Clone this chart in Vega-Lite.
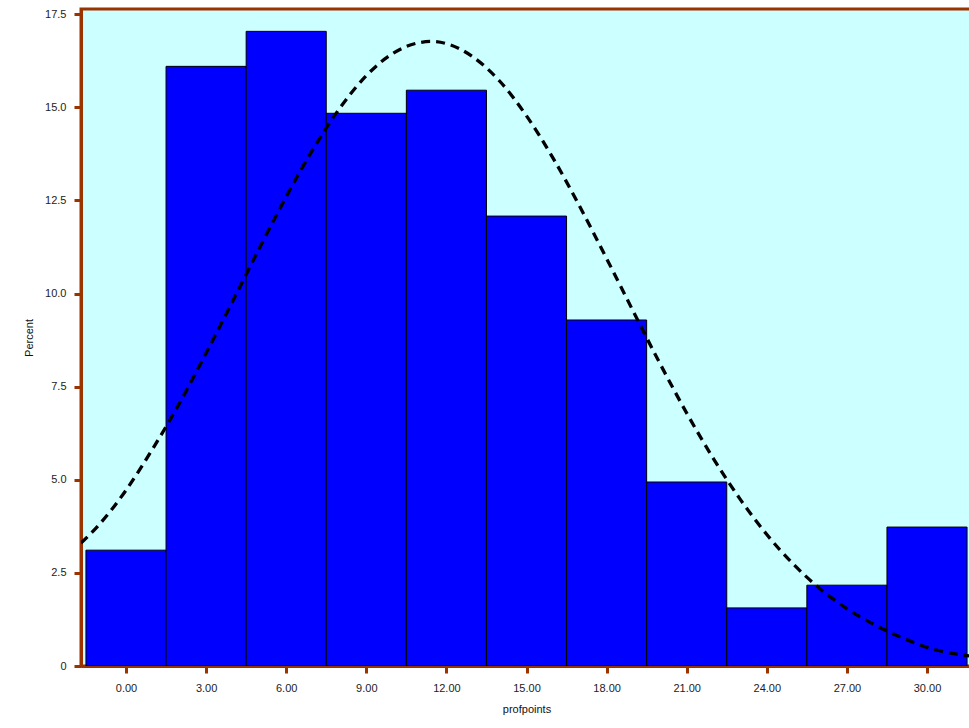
{
  "$schema": "https://vega.github.io/schema/vega-lite/v6.json",
  "autosize": {"type": "none"},
  "padding": {"left": 81, "top": 9, "right": 0, "bottom": 62},
  "width": 891,
  "height": 657,
  "background": "#ffffff",
  "config": {
    "view": {"fill": "#ccffff", "stroke": "#993300", "strokeWidth": 3},
    "axis": {
      "grid": false,
      "domainColor": "#993300",
      "domainWidth": 3,
      "tickColor": "#993300",
      "tickWidth": 3,
      "tickSize": 7,
      "labelFont": "Liberation Sans",
      "labelFontSize": 11,
      "labelColor": "#222222",
      "titleFont": "Liberation Sans",
      "titleFontSize": 11,
      "titleFontWeight": "normal",
      "titleColor": "#111111"
    }
  },
  "datasets": {
    "bins": [
      {"mid": 0, "lo": -1.5, "hi": 1.5, "pct": 3.11},
      {"mid": 3, "lo": 1.5, "hi": 4.5, "pct": 16.1},
      {"mid": 6, "lo": 4.5, "hi": 7.5, "pct": 17.04},
      {"mid": 9, "lo": 7.5, "hi": 10.5, "pct": 14.84},
      {"mid": 12, "lo": 10.5, "hi": 13.5, "pct": 15.46},
      {"mid": 15, "lo": 13.5, "hi": 16.5, "pct": 12.08},
      {"mid": 18, "lo": 16.5, "hi": 19.5, "pct": 9.29},
      {"mid": 21, "lo": 19.5, "hi": 22.5, "pct": 4.94},
      {"mid": 24, "lo": 22.5, "hi": 25.5, "pct": 1.56},
      {"mid": 27, "lo": 25.5, "hi": 28.5, "pct": 2.17},
      {"mid": 30, "lo": 28.5, "hi": 31.5, "pct": 3.73}
    ],
    "curve": [
      {"x": -1.685, "y": 3.3},
      {"x": -1, "y": 3.8},
      {"x": 0, "y": 4.72},
      {"x": 1, "y": 5.83},
      {"x": 2, "y": 7.05},
      {"x": 3, "y": 8.4},
      {"x": 4, "y": 9.8},
      {"x": 5, "y": 11.22},
      {"x": 6, "y": 12.6},
      {"x": 7, "y": 13.87},
      {"x": 8, "y": 14.97},
      {"x": 9, "y": 15.85},
      {"x": 10, "y": 16.45},
      {"x": 11, "y": 16.74},
      {"x": 11.4, "y": 16.77},
      {"x": 12, "y": 16.71},
      {"x": 13, "y": 16.35},
      {"x": 14, "y": 15.7},
      {"x": 15, "y": 14.77},
      {"x": 16, "y": 13.63},
      {"x": 17, "y": 12.33},
      {"x": 18, "y": 10.94},
      {"x": 19, "y": 9.52},
      {"x": 20, "y": 8.12},
      {"x": 21, "y": 6.79},
      {"x": 22, "y": 5.57},
      {"x": 23, "y": 4.48},
      {"x": 24, "y": 3.53},
      {"x": 25, "y": 2.73},
      {"x": 26, "y": 2.07},
      {"x": 27, "y": 1.54},
      {"x": 28, "y": 1.12},
      {"x": 29, "y": 0.78},
      {"x": 30, "y": 0.5},
      {"x": 31, "y": 0.33},
      {"x": 31.685, "y": 0.26}
    ]
  },
  "layer": [
    {
      "data": {"name": "bins"},
      "mark": {"type": "bar", "fill": "#0000ff", "stroke": "#000000", "strokeWidth": 1, "clip": true},
      "encoding": {
        "x": {
          "field": "lo",
          "type": "quantitative",
          "scale": {"domain": [-1.685, 31.685], "nice": false, "zero": false},
          "axis": {
            "title": "profpoints",
            "values": [0, 3, 6, 9, 12, 15, 18, 21, 24, 27, 30],
            "format": ".2f",
            "labelPadding": 9,
            "titlePadding": 10
          }
        },
        "x2": {"field": "hi"},
        "y": {
          "field": "pct",
          "type": "quantitative",
          "scale": {"domain": [0, 17.64], "nice": false},
          "axis": {
            "title": "Percent",
            "values": [0, 2.5, 5, 7.5, 10, 12.5, 15, 17.5],
            "labelExpr": "datum.value == 0 ? '0' : format(datum.value, '.1f')",
            "labelPadding": 8,
            "titlePadding": 10
          }
        },
        "y2": {"datum": 0}
      }
    },
    {
      "data": {"name": "curve"},
      "mark": {"type": "line", "color": "#000000", "strokeWidth": 3.3, "strokeDash": [9, 6], "interpolate": "monotone", "clip": true},
      "encoding": {
        "x": {"field": "x", "type": "quantitative"},
        "y": {"field": "y", "type": "quantitative"}
      }
    }
  ]
}
